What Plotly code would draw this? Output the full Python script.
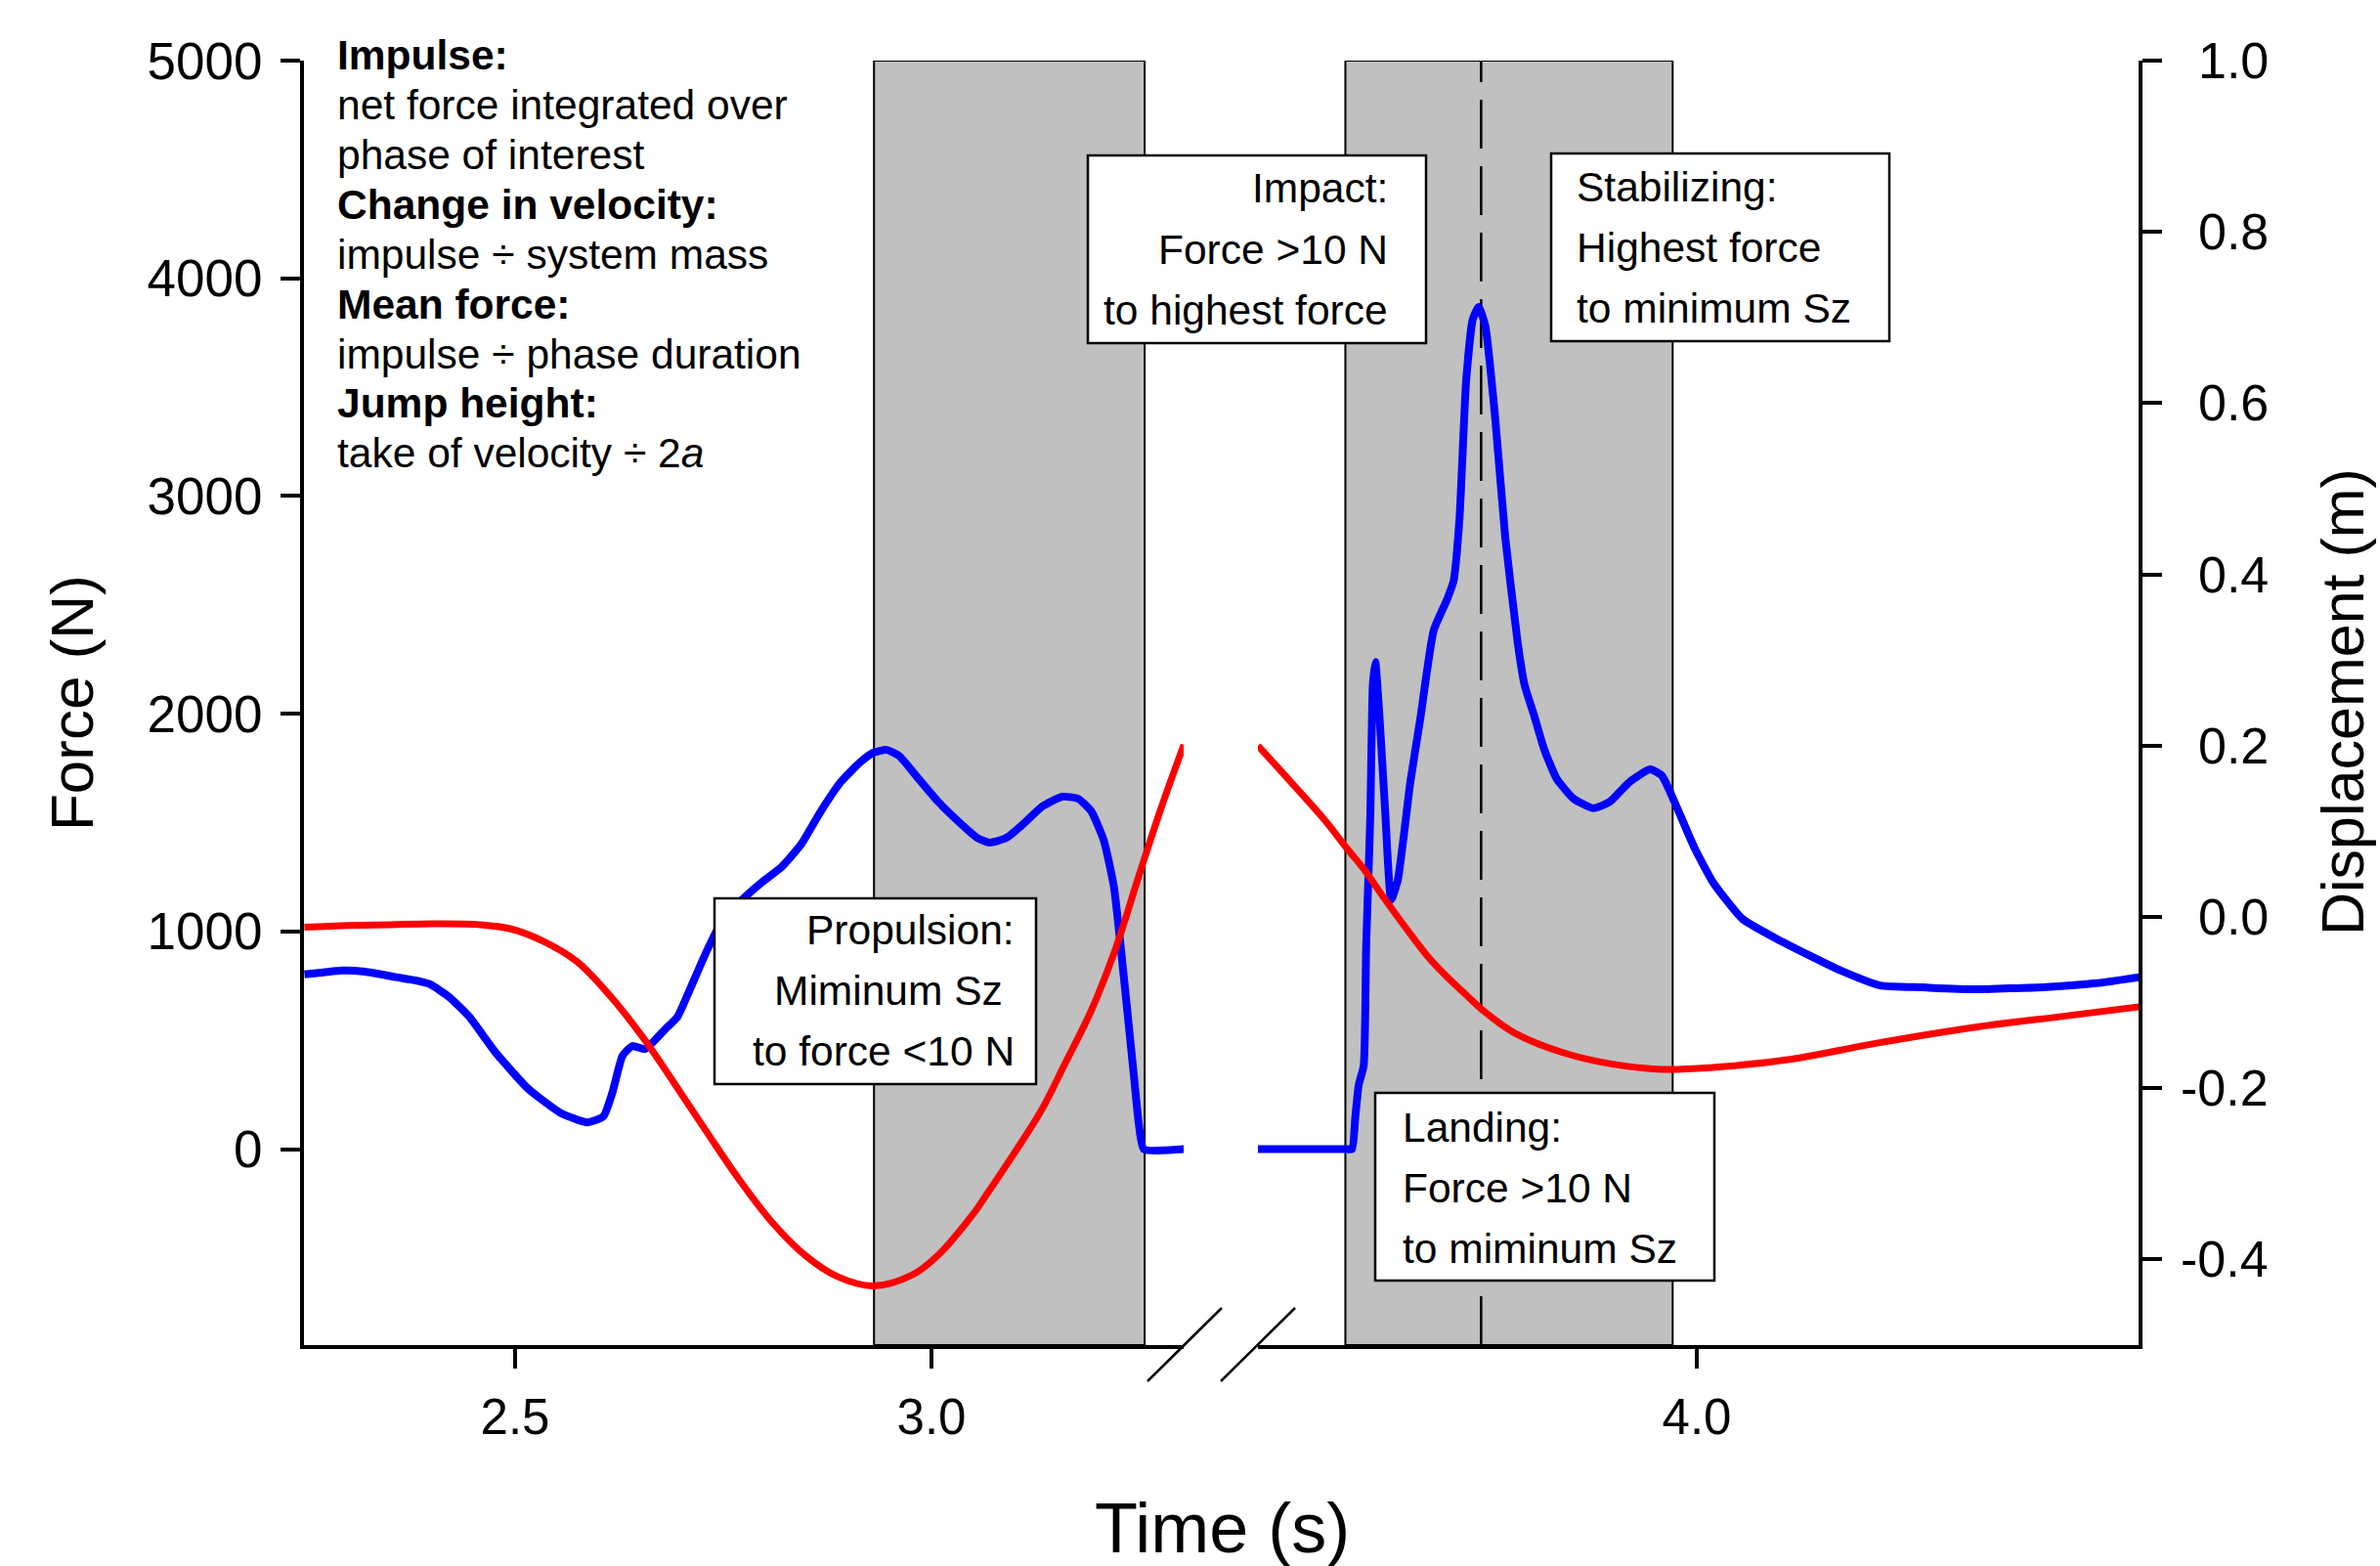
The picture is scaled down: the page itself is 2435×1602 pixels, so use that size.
import plotly.graph_objects as go

# ---------------- data ----------------
# Vertical ground reaction force (N) -- before take-off
force_t_left = [2.247, 2.270, 2.292, 2.320, 2.357, 2.380, 2.398, 2.421, 2.445, 2.477,
                2.515, 2.554, 2.586, 2.606, 2.617, 2.629, 2.641, 2.656, 2.680, 2.695,
                2.711, 2.730, 2.750, 2.782, 2.797, 2.820, 2.844, 2.867, 2.891, 2.914,
                2.930, 2.946, 2.961, 2.985, 3.008, 3.032, 3.055, 3.070, 3.090, 3.110,
                3.133, 3.157, 3.176, 3.192, 3.207, 3.219, 3.227, 3.235, 3.243, 3.249,
                3.255, 3.303]
force_left = [803, 812, 821, 815, 790, 775, 757, 698, 608, 442,
              280, 168, 123, 150, 262, 429, 474, 460, 550, 608,
              743, 909, 1057, 1179, 1228, 1296, 1403, 1551, 1686, 1776,
              1821, 1834, 1807, 1699, 1596, 1506, 1430, 1408, 1430, 1493,
              1574, 1619, 1610, 1551, 1417, 1206, 937, 640, 339, 115,
              0, 0]

# Vertical ground reaction force (N) -- landing
force_t_right = [3.473, 3.580, 3.586, 3.590, 3.594, 3.600, 3.603, 3.606, 3.608, 3.611,
                 3.614, 3.617, 3.620, 3.626, 3.633, 3.641, 3.656, 3.668, 3.684, 3.700,
                 3.708, 3.715, 3.723, 3.731, 3.738, 3.746, 3.758, 3.770, 3.785, 3.793,
                 3.805, 3.817, 3.832, 3.852, 3.876, 3.896, 3.919, 3.944, 3.958, 3.973,
                 3.997, 4.020, 4.055, 4.095, 4.134, 4.173, 4.220, 4.271, 4.333, 4.420,
                 4.480, 4.531]
force_right = [0, 0, 0, 150, 294, 384, 937, 1291, 1538, 2135,
               2238, 2100, 1923, 1538, 1147, 1237, 1686, 1978, 2382, 2524,
               2611, 2894, 3527, 3812, 3868, 3783, 3354, 2809, 2324, 2135,
               1987, 1834, 1700, 1610, 1566, 1597, 1686, 1745, 1716, 1597,
               1386, 1223, 1057, 968, 892, 820, 752, 743, 734, 745,
               762, 790]

# Vertical displacement of the centre of mass, Sz (m)
disp_t_left = [2.247, 2.300, 2.350, 2.400, 2.457, 2.495, 2.535, 2.574, 2.613, 2.653,
               2.691, 2.730, 2.770, 2.809, 2.848, 2.887, 2.930, 2.977, 3.008, 3.050,
               3.067, 3.100, 3.133, 3.160, 3.192, 3.220, 3.250, 3.275, 3.303]
disp_left = [-0.012, -0.010, -0.009, -0.008, -0.009, -0.014, -0.029, -0.052, -0.091, -0.140,
             -0.194, -0.251, -0.308, -0.357, -0.395, -0.420, -0.431, -0.418, -0.395, -0.347,
             -0.323, -0.275, -0.224, -0.172, -0.109, -0.040, 0.051, 0.125, 0.201]

disp_t_right = [3.473, 3.500, 3.527, 3.555, 3.579, 3.600, 3.626, 3.650, 3.676, 3.700,
                3.723, 3.743, 3.782, 3.841, 3.899, 3.958, 4.016, 4.114, 4.213, 4.333,
                4.440, 4.531]
disp_right = [0.200, 0.171, 0.142, 0.111, 0.081, 0.056, 0.020, -0.012, -0.045, -0.070,
              -0.091, -0.109, -0.136, -0.159, -0.172, -0.178, -0.176, -0.166, -0.148, -0.129,
              -0.116, -0.105]

# Phase boundaries (s)
propulsion_phase = [2.931, 3.256]
landing_phase = [3.578, 3.971]
peak_force_time = 3.741

# Axis ticks
force_ticks = [0, 1000, 2000, 3000, 4000, 5000]
disp_ticks = [-0.4, -0.2, 0.0, 0.2, 0.4, 0.6, 0.8, 1.0]
disp_tick_labels = ["-0.4", "-0.2", "0.0", "0.2", "0.4", "0.6", "0.8", "1.0"]
time_ticks_left = [2.5, 3.0]
time_tick_labels_left = ["2.5", "3.0"]
time_ticks_right = [4.0]
time_tick_labels_right = ["4.0"]

# ---------------- layout geometry ----------------
W, H = 2435, 1602
PL, PR, PT, PB = 311, 2188, 62, 1376     # plot-area pixel box


def px(X):
    return (X - PL) / (PR - PL)


def py(Y):
    return (PB - Y) / (PB - PT)


FONT = "Liberation Sans, Arial, Helvetica, sans-serif"
BLUE = "#0000FF"
RED = "#FF0000"

fig = go.Figure()

fig.add_trace(go.Scatter(x=force_t_left, y=force_left, mode="lines", xaxis="x", yaxis="y",
                         line=dict(color=BLUE, width=8, shape="spline", smoothing=0.5),
                         showlegend=False, hoverinfo="skip"))
fig.add_trace(go.Scatter(x=force_t_right, y=force_right, mode="lines", xaxis="x2", yaxis="y",
                         line=dict(color=BLUE, width=8, shape="spline", smoothing=0.5),
                         showlegend=False, hoverinfo="skip"))
fig.add_trace(go.Scatter(x=disp_t_left, y=disp_left, mode="lines", xaxis="x", yaxis="y2",
                         line=dict(color=RED, width=7, shape="spline"), showlegend=False,
                         hoverinfo="skip"))
fig.add_trace(go.Scatter(x=disp_t_right, y=disp_right, mode="lines", xaxis="x2", yaxis="y2",
                         line=dict(color=RED, width=7, shape="spline"), showlegend=False,
                         hoverinfo="skip"))

axis_common = dict(showline=True, linecolor="black", linewidth=4, ticks="outside",
                   ticklen=20, tickwidth=4, tickcolor="black", showgrid=False,
                   zeroline=False)
XFONT = dict(family=FONT, size=51, color="black")
YFONT = dict(family=FONT, size=53, color="black")

fig.update_layout(
    width=W, height=H, autosize=False,
    margin=dict(l=PL, r=W - PR, t=PT, b=H - PB, pad=0),
    paper_bgcolor="white", plot_bgcolor="white",
    font=dict(family=FONT, color="black"),
    xaxis=dict(domain=[0, px(1211)], range=[2.2465, 3.3028], anchor="y",
               tickvals=time_ticks_left, ticktext=time_tick_labels_left,
               ticklabelstandoff=6, tickfont=XFONT, **axis_common),
    xaxis2=dict(domain=[px(1287), 1], range=[3.4730, 4.5305], anchor="y",
                tickvals=time_ticks_right, ticktext=time_tick_labels_right,
                ticklabelstandoff=6, tickfont=XFONT, **axis_common),
    yaxis=dict(range=[-900, 5000], anchor="x", tickvals=force_ticks,
               ticktext=[str(v) for v in force_ticks], ticklabelstandoff=8,
               tickfont=YFONT, **axis_common),
    yaxis2=dict(range=[-0.5, 1.0], anchor="x2", overlaying="y", side="right",
                tickvals=disp_ticks, showticklabels=False, **axis_common),
)

# Phase bands and peak-force line
fig.add_shape(type="rect", xref="x", yref="y", x0=propulsion_phase[0], x1=propulsion_phase[1],
              y0=-900, y1=5000, fillcolor="#C0C0C0", line=dict(color="black", width=2),
              layer="below")
fig.add_shape(type="rect", xref="x2", yref="y", x0=landing_phase[0], x1=landing_phase[1],
              y0=-900, y1=5000, fillcolor="#C0C0C0", line=dict(color="black", width=2),
              layer="below")
fig.add_shape(type="line", xref="x2", yref="y", x0=peak_force_time, x1=peak_force_time,
              y0=-900, y1=5000, line=dict(color="black", width=2.5, dash="50px,18px"),
              layer="below")

# Axis break marks
for (xa, ya, xb, yb) in [(1174, 1413, 1250, 1338), (1249, 1413, 1325, 1338)]:
    fig.add_shape(type="line", xref="paper", yref="paper", x0=px(xa), y0=py(ya),
                  x1=px(xb), y1=py(yb), line=dict(color="black", width=2.5))

# Right-axis tick labels (right aligned, as in the reference)
for v, lab in zip(disp_ticks, disp_tick_labels):
    fig.add_annotation(x=px(2323), xref="paper", y=v, yref="y2", text=lab, showarrow=False,
                       xanchor="right", yanchor="middle",
                       font=dict(family=FONT, size=52, color="black"))

# Axis titles
fig.add_annotation(x=px(1250), y=py(1563), xref="paper", yref="paper", text="Time (s)",
                   showarrow=False, xanchor="center", yanchor="middle",
                   font=dict(family=FONT, size=72, color="black"))
fig.add_annotation(x=px(73), y=py(719), xref="paper", yref="paper", text="Force (N)",
                   showarrow=False, textangle=-90, xanchor="center", yanchor="middle",
                   font=dict(family=FONT, size=62, color="black"))
fig.add_annotation(x=px(2397), y=py(718), xref="paper", yref="paper", text="Displacement (m)",
                   showarrow=False, textangle=-90, xanchor="center", yanchor="middle",
                   font=dict(family=FONT, size=61, color="black"))

TXT = 42.5

# Top-left definitions block
defs = ["<b>Impulse:</b>", "net force integrated over", "phase of interest",
        "<b>Change in velocity:</b>", "impulse ÷ system mass", "<b>Mean force:</b>",
        "impulse ÷ phase duration", "<b>Jump height:</b>", "take of velocity ÷ 2<i>a</i>"]
for k, line in enumerate(defs):
    fig.add_annotation(x=px(343), y=py(56.7 + 50.9 * k), xref="paper", yref="paper",
                       text=line, showarrow=False, xanchor="left", yanchor="middle",
                       font=dict(family=FONT, size=TXT, color="black"))

# Phase boxes
boxes = [
    # (left, right, top, bottom, text x, anchor, first line y, lines)
    (731, 1060, 919, 1109, 1040, "right", 951.3, ["Propulsion:", "Miminum Sz ", "to force <10 N"]),
    (1113, 1459, 159, 351, 1422, "right", 192.8, ["Impact:", "Force >10 N", "to highest force"]),
    (1587, 1933, 157, 349, 1611, "left", 191.5, ["Stabilizing:", "Highest force", "to minimum Sz"]),
    (1407, 1754, 1118, 1310, 1433, "left", 1153.0, ["Landing:", "Force >10 N", "to miminum Sz"]),
]
for (bl, br, bt, bb, tx, anc, y0, lines) in boxes:
    fig.add_shape(type="rect", xref="paper", yref="paper", x0=px(bl), x1=px(br),
                  y0=py(bb), y1=py(bt), fillcolor="white",
                  line=dict(color="black", width=2.5), layer="above")
    for k, line in enumerate(lines):
        fig.add_annotation(x=px(tx), y=py(y0 + 62.2 * k), xref="paper", yref="paper",
                           text=line.replace(" ", "&nbsp;") if line.endswith(" ") else line,
                           showarrow=False, xanchor=anc, yanchor="middle",
                           font=dict(family=FONT, size=TXT, color="black"))

fig.write_html("out.html", config={"displayModeBar": False},
               post_script='document.body.style.margin="0";')
